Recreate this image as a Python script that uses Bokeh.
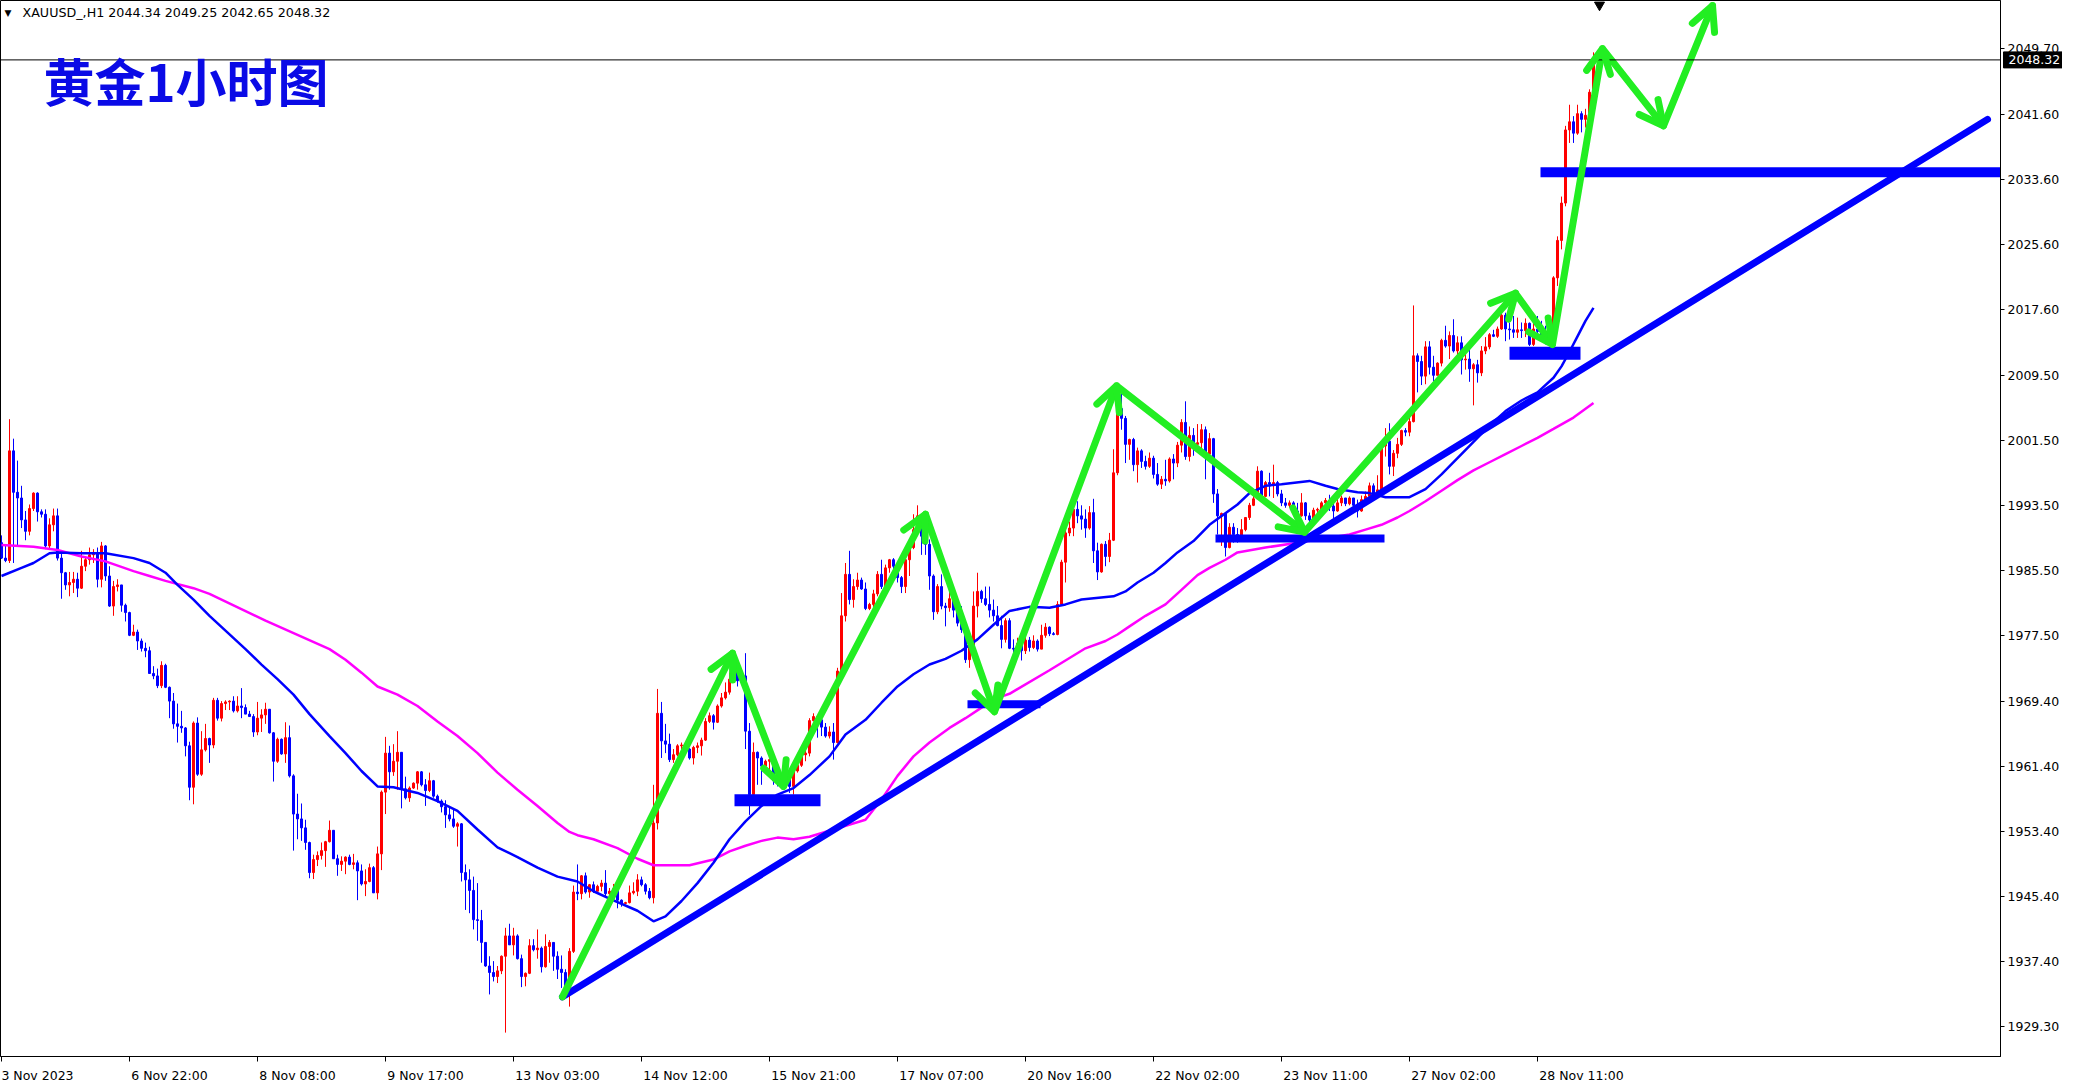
from bokeh.plotting import figure
from bokeh.models import (Range1d, FixedTicker, NumeralTickFormatter, Label, Span,
                          Arrow, OpenHead, ColumnDataSource)
from bokeh.embed import file_html
from bokeh.resources import INLINE
from bokeh.core.properties import value

# ---------------- data ----------------
symbol = "XAUUSD_,H1"
title_text = "黄金1小时图"
x_labels = ["3 Nov 2023", "6 Nov 22:00", "8 Nov 08:00", "9 Nov 17:00", "13 Nov 03:00",
            "14 Nov 12:00", "15 Nov 21:00", "17 Nov 07:00", "20 Nov 16:00", "22 Nov 02:00",
            "23 Nov 11:00", "27 Nov 02:00", "28 Nov 11:00"]
bars_per_label = 32
y_ticks = [1929.30, 1937.40, 1945.40, 1953.40, 1961.40, 1969.40, 1977.50, 1985.50,
           1993.50, 2001.50, 2009.50, 2017.60, 2025.60, 2033.60, 2041.60, 2049.70]

first_open = 1988.9
closes = [
    1987.0, 1986.7, 2000.2, 1995.1, 1994.4, 1991.7, 1990.3, 1993.1, 1995.0, 1992.7,
    1992.4, 1988.5, 1991.1, 1992.2, 1987.0, 1985.2, 1983.7, 1984.0, 1984.4, 1983.3,
    1986.0, 1986.8, 1987.4, 1987.7, 1984.4, 1988.5, 1984.8, 1981.1, 1983.5, 1983.7,
    1981.2, 1980.3, 1977.5, 1977.9, 1976.8, 1975.9, 1975.6, 1972.8, 1972.5, 1971.3,
    1973.8, 1971.1, 1969.4, 1966.6, 1966.3, 1966.1, 1963.9, 1958.8, 1966.7, 1960.4,
    1963.4, 1964.8, 1964.0, 1969.5, 1967.3, 1969.1, 1969.3, 1969.4, 1968.2, 1968.8,
    1968.6, 1967.8, 1967.5, 1965.6, 1967.3, 1967.7, 1968.4, 1965.5, 1962.0, 1964.7,
    1962.9, 1964.9, 1960.2, 1955.5, 1954.9, 1953.8, 1952.0, 1948.3, 1949.9, 1950.4,
    1951.0, 1952.1, 1953.5, 1950.0, 1949.3, 1949.7, 1950.2, 1949.3, 1949.5, 1948.5,
    1946.9, 1947.2, 1948.9, 1945.8, 1950.6, 1958.2, 1963.0, 1960.7, 1962.0, 1963.1,
    1958.6, 1957.5, 1958.7, 1959.3, 1960.7, 1959.1, 1958.4, 1959.6, 1957.7, 1957.1,
    1956.4, 1955.4, 1954.9, 1954.0, 1954.3, 1948.3, 1947.4, 1946.1, 1942.5, 1942.4,
    1939.7, 1936.8, 1936.0, 1935.5, 1936.2, 1938.0, 1940.5, 1939.4, 1940.5, 1937.7,
    1935.5, 1935.9, 1939.3, 1938.8, 1939.0, 1936.7, 1939.2, 1939.7, 1938.0, 1936.4,
    1936.0, 1933.9, 1938.6, 1945.9, 1945.7, 1947.9, 1945.9, 1946.8, 1946.0, 1946.6,
    1947.0, 1945.7, 1946.0, 1946.3, 1944.9, 1944.5, 1944.6, 1945.8, 1946.0, 1947.4,
    1946.8, 1946.0, 1945.2, 1954.4, 1967.9, 1964.5, 1964.1, 1962.2, 1962.8, 1963.9,
    1964.0, 1963.5, 1962.4, 1963.7, 1963.9, 1964.6, 1966.9, 1967.6, 1966.8, 1968.8,
    1969.8, 1970.5, 1972.1, 1973.3, 1971.9, 1972.5, 1965.7, 1957.9, 1963.1, 1962.4,
    1961.4, 1962.0, 1962.2, 1959.6, 1959.3, 1959.1, 1959.8, 1958.9, 1960.8, 1961.5,
    1962.8, 1963.0, 1967.0, 1967.5, 1967.1, 1966.2, 1965.1, 1965.6, 1964.3, 1973.1,
    1979.9, 1985.0, 1981.9, 1983.5, 1984.3, 1983.2, 1980.8, 1981.3, 1982.6, 1985.0,
    1983.5, 1985.8, 1986.8, 1986.0, 1984.6, 1983.5, 1986.8, 1988.3, 1990.5, 1992.2,
    1989.7, 1988.7, 1984.8, 1980.4, 1983.5, 1981.1, 1980.9, 1982.0, 1980.6, 1979.0,
    1978.2, 1974.5, 1976.2, 1981.1, 1982.9, 1982.0, 1981.3, 1980.6, 1979.9, 1978.7,
    1977.0, 1979.3, 1975.9, 1975.8, 1976.5, 1975.6, 1976.9, 1976.0, 1976.8, 1975.8,
    1977.5, 1978.5, 1977.7, 1977.6, 1981.3, 1986.5, 1990.1, 1990.7, 1993.0, 1992.2,
    1991.8, 1990.7, 1992.6, 1987.9, 1985.3, 1988.7, 1987.2, 1989.2, 1997.5, 2005.4,
    2004.2, 2001.0, 2001.6, 1998.5, 2000.2, 1998.9, 1998.3, 1999.3, 1997.3, 1996.1,
    1996.7, 1996.5, 1999.2, 1998.7, 2000.9, 2003.7, 1999.5, 2002.1, 2001.0, 2001.2,
    2002.8, 1999.8, 2001.7, 1994.9, 1992.2, 1992.5, 1988.3, 1990.8, 1989.9, 1989.6,
    1990.5, 1992.0, 1993.5, 1994.3, 1997.7, 1994.6, 1996.3, 1996.1, 1996.3, 1994.9,
    1993.8, 1993.5, 1993.8, 1992.8, 1992.2, 1993.8, 1992.2, 1991.7, 1992.9, 1993.0,
    1993.8, 1994.1, 1993.4, 1992.8, 1993.8, 1994.4, 1993.7, 1994.4, 1993.5, 1992.8,
    1994.2, 1994.6, 1995.9, 1994.9, 1995.4, 2000.8, 2001.4, 1998.3, 1999.9, 2001.0,
    2002.7, 2002.5, 2003.8, 2011.9, 2011.2, 2009.4, 2013.0, 2010.5, 2009.5, 2011.0,
    2013.8, 2013.1, 2014.4, 2012.5, 2013.5, 2011.4, 2011.5, 2010.3, 2010.8, 2009.8,
    2012.5, 2013.0, 2014.5, 2014.3, 2015.2, 2016.9, 2015.2, 2015.1, 2014.8, 2015.1,
    2015.0, 2015.9, 2013.3, 2015.2, 2014.9, 2014.3, 2013.9, 2014.3, 2021.5, 2026.1,
    2030.7, 2039.7, 2040.7, 2039.3, 2041.7, 2041.0, 2041.5, 2044.34, 2048.32]
highs = [
    1989.8, 1988.5, 2004.1, 2001.7, 1999.0, 1995.9, 1992.8, 1993.6, 1995.1, 1995.1,
    1993.0, 1993.0, 1991.9, 1993.1, 1993.1, 1987.7, 1985.3, 1985.3, 1985.3, 1985.2,
    1987.9, 1987.2, 1988.3, 1988.1, 1988.3, 1989.0, 1988.6, 1986.0, 1984.2, 1984.4,
    1983.7, 1981.4, 1980.4, 1978.8, 1978.2, 1977.1, 1976.6, 1976.1, 1973.7, 1973.4,
    1974.3, 1974.0, 1971.2, 1970.4, 1969.1, 1968.2, 1966.2, 1964.4, 1966.9, 1967.4,
    1965.7, 1966.6, 1964.9, 1969.8, 1969.8, 1969.4, 1969.5, 1969.5, 1970.0, 1970.0,
    1971.0, 1969.0, 1968.2, 1967.8, 1969.3, 1968.4, 1969.2, 1968.4, 1965.6, 1964.9,
    1964.8, 1966.8, 1966.4, 1960.4, 1958.0, 1956.8, 1954.8, 1952.1, 1950.5, 1950.9,
    1952.0, 1952.2, 1954.7, 1953.5, 1950.5, 1950.3, 1950.3, 1950.5, 1950.6, 1949.8,
    1949.3, 1948.7, 1949.4, 1949.1, 1951.5, 1958.4, 1965.0, 1963.9, 1964.1, 1965.7,
    1963.1, 1960.1, 1958.9, 1959.4, 1960.8, 1960.8, 1959.8, 1960.6, 1959.7, 1957.9,
    1957.3, 1957.2, 1956.5, 1956.1, 1954.5, 1954.4, 1949.3, 1948.7, 1947.8, 1947.0,
    1943.7, 1939.7, 1938.0, 1937.4, 1936.8, 1938.1, 1941.5, 1942.0, 1941.5, 1940.7,
    1938.2, 1936.0, 1940.1, 1940.1, 1941.3, 1939.2, 1940.7, 1940.0, 1939.7, 1938.6,
    1938.1, 1936.4, 1939.0, 1946.7, 1949.3, 1948.0, 1948.3, 1946.9, 1947.2, 1946.8,
    1947.4, 1948.6, 1946.4, 1946.9, 1946.4, 1945.0, 1944.7, 1946.7, 1947.1, 1948.1,
    1947.8, 1947.0, 1946.4, 1959.1, 1970.9, 1969.3, 1966.6, 1965.4, 1963.5, 1964.1,
    1964.3, 1964.3, 1963.6, 1963.9, 1964.3, 1964.9, 1967.3, 1968.0, 1967.8, 1969.0,
    1970.4, 1971.7, 1972.9, 1974.3, 1973.7, 1973.4, 1975.3, 1966.7, 1964.3, 1963.2,
    1962.6, 1962.2, 1962.3, 1962.3, 1960.0, 1959.8, 1960.2, 1960.0, 1961.6, 1962.0,
    1963.5, 1963.7, 1967.3, 1967.9, 1967.6, 1967.9, 1966.7, 1966.3, 1966.7, 1973.5,
    1982.7, 1986.4, 1987.9, 1984.4, 1985.2, 1984.6, 1984.0, 1981.5, 1983.1, 1985.4,
    1986.8, 1986.2, 1986.9, 1987.0, 1986.2, 1984.8, 1987.4, 1989.3, 1992.4, 1993.5,
    1992.4, 1989.7, 1989.3, 1985.0, 1983.8, 1985.0, 1981.5, 1983.1, 1982.1, 1980.7,
    1981.1, 1978.3, 1976.6, 1982.9, 1985.2, 1983.1, 1983.5, 1983.5, 1981.9, 1981.1,
    1979.9, 1979.6, 1979.6, 1977.0, 1977.2, 1976.8, 1977.6, 1977.3, 1977.5, 1977.0,
    1978.8, 1979.0, 1978.6, 1977.9, 1981.7, 1986.8, 1990.5, 1991.5, 1994.0, 1994.0,
    1993.5, 1993.0, 1993.4, 1994.3, 1988.9, 1988.8, 1989.1, 1990.1, 2000.4, 2006.7,
    2007.6, 2004.5, 2001.7, 2001.8, 2000.6, 2000.4, 1999.6, 2000.0, 1999.6, 1998.7,
    1997.1, 1999.1, 1999.4, 1999.8, 2001.3, 2004.1, 2006.3, 2003.2, 2003.0, 2003.5,
    2003.5, 2003.2, 2002.4, 2001.8, 1995.5, 1992.6, 1992.6, 1991.3, 1991.3, 1990.7,
    1991.8, 1992.0, 1993.8, 1994.8, 1998.3, 1997.8, 1996.5, 1997.5, 1998.5, 1996.5,
    1995.4, 1994.4, 1994.1, 1994.0, 1993.8, 1995.0, 1993.9, 1992.6, 1993.2, 1993.2,
    1994.0, 1994.4, 1994.8, 1993.8, 1994.7, 1994.7, 1994.4, 1994.6, 1994.4, 1994.2,
    1994.7, 1995.2, 1996.3, 1996.2, 1997.2, 2001.4, 2003.0, 2003.6, 2000.3, 2001.8,
    2002.8, 2003.0, 2004.5, 2018.1, 2012.2, 2011.9, 2013.7, 2013.7, 2011.9, 2011.1,
    2014.0, 2015.6, 2014.9, 2016.4, 2014.3, 2014.3, 2012.1, 2013.7, 2011.0, 2011.4,
    2013.1, 2014.2, 2014.7, 2015.1, 2015.5, 2017.6, 2017.2, 2016.0, 2016.8, 2016.6,
    2016.0, 2016.5, 2016.0, 2016.0, 2016.8, 2016.2, 2015.6, 2016.0, 2021.7, 2026.6,
    2031.5, 2040.2, 2042.8, 2041.4, 2042.8, 2042.0, 2042.3, 2044.7, 2049.25]
lows = [
    1986.9, 1986.5, 1986.4, 1986.4, 1988.5, 1990.7, 1989.2, 1989.8, 1992.8, 1991.5,
    1992.0, 1988.1, 1988.1, 1990.3, 1986.7, 1982.0, 1983.1, 1982.3, 1982.7, 1982.2,
    1983.2, 1985.4, 1986.2, 1986.4, 1983.4, 1983.4, 1984.2, 1981.0, 1979.9, 1982.9,
    1980.4, 1979.2, 1977.4, 1977.4, 1975.7, 1975.5, 1974.8, 1972.8, 1972.1, 1971.0,
    1971.0, 1971.0, 1967.3, 1966.0, 1964.3, 1965.5, 1962.6, 1957.2, 1956.7, 1960.2,
    1960.2, 1963.2, 1961.8, 1963.6, 1967.0, 1966.9, 1968.3, 1968.3, 1968.0, 1968.0,
    1967.3, 1967.8, 1967.5, 1965.0, 1965.2, 1965.6, 1966.6, 1965.4, 1959.5, 1961.8,
    1962.8, 1961.8, 1960.0, 1951.0, 1952.4, 1952.2, 1951.1, 1947.6, 1947.5, 1949.1,
    1949.9, 1949.0, 1952.0, 1950.0, 1947.9, 1948.5, 1948.1, 1949.2, 1948.7, 1944.9,
    1946.7, 1945.4, 1947.1, 1945.8, 1945.0, 1948.6, 1955.5, 1958.5, 1960.2, 1958.5,
    1956.2, 1957.3, 1957.0, 1958.6, 1958.5, 1958.9, 1956.5, 1958.2, 1957.5, 1956.9,
    1955.7, 1953.8, 1954.6, 1953.8, 1951.5, 1947.2, 1943.7, 1943.3, 1941.3, 1939.9,
    1937.2, 1936.7, 1933.3, 1934.9, 1934.7, 1935.8, 1928.6, 1939.4, 1938.1, 1937.6,
    1934.2, 1934.3, 1935.8, 1938.6, 1937.7, 1936.0, 1936.6, 1937.2, 1936.2, 1935.2,
    1934.1, 1933.5, 1931.8, 1938.4, 1944.9, 1945.0, 1945.7, 1945.2, 1945.8, 1946.0,
    1946.0, 1945.4, 1945.5, 1945.6, 1943.9, 1944.1, 1944.4, 1944.5, 1945.6, 1945.4,
    1946.6, 1945.6, 1945.0, 1944.5, 1953.6, 1962.4, 1963.0, 1961.9, 1961.8, 1962.6,
    1963.4, 1963.0, 1962.2, 1961.6, 1963.0, 1962.7, 1964.5, 1966.7, 1965.9, 1966.7,
    1968.6, 1969.6, 1970.2, 1971.7, 1971.2, 1971.7, 1963.5, 1955.4, 1957.9, 1959.1,
    1959.1, 1961.0, 1960.8, 1959.1, 1958.9, 1958.9, 1958.7, 1958.1, 1957.9, 1960.6,
    1961.3, 1962.0, 1962.6, 1966.9, 1964.9, 1965.1, 1964.9, 1964.8, 1962.2, 1964.2,
    1972.5, 1979.2, 1981.3, 1980.9, 1983.1, 1983.1, 1980.6, 1980.6, 1981.0, 1982.3,
    1983.2, 1983.3, 1985.2, 1984.2, 1984.0, 1982.7, 1982.7, 1984.8, 1988.1, 1990.1,
    1987.4, 1987.4, 1983.1, 1979.4, 1980.1, 1980.7, 1978.6, 1980.4, 1979.7, 1978.6,
    1977.8, 1974.1, 1973.5, 1975.9, 1979.7, 1981.5, 1981.1, 1979.7, 1979.2, 1978.6,
    1975.9, 1976.6, 1975.8, 1975.0, 1975.3, 1974.4, 1975.2, 1975.5, 1975.8, 1975.5,
    1975.8, 1977.2, 1977.4, 1977.5, 1977.5, 1981.1, 1984.0, 1989.7, 1989.7, 1991.3,
    1990.5, 1989.5, 1990.5, 1986.4, 1984.3, 1985.2, 1986.0, 1986.5, 1989.1, 1997.2,
    2002.8, 1998.7, 1999.1, 1997.7, 1996.3, 1998.1, 1997.9, 1998.1, 1996.8, 1995.9,
    1995.5, 1995.9, 1996.3, 1996.7, 1998.2, 2000.0, 1999.1, 1998.9, 1999.6, 2000.6,
    2000.3, 1996.7, 1999.3, 1993.8, 1989.9, 1988.5, 1987.2, 1988.2, 1988.9, 1988.9,
    1989.3, 1990.3, 1991.7, 1993.4, 1994.3, 1994.5, 1994.5, 1994.6, 1994.4, 1994.6,
    1993.4, 1993.2, 1993.2, 1992.2, 1991.7, 1992.1, 1991.7, 1991.3, 1991.7, 1992.0,
    1992.5, 1993.5, 1992.8, 1991.7, 1992.7, 1993.4, 1993.4, 1993.5, 1993.0, 1992.0,
    1992.7, 1993.8, 1994.2, 1994.6, 1994.7, 1995.2, 1999.5, 1997.3, 1997.1, 1999.3,
    2000.8, 2002.0, 2002.0, 2003.7, 2007.4, 2008.3, 2008.4, 2009.6, 2008.8, 2009.5,
    2010.6, 2012.9, 2011.5, 2012.3, 2011.5, 2009.6, 2010.2, 2008.7, 2005.8, 2008.6,
    2009.4, 2012.1, 2012.7, 2014.2, 2014.1, 2015.1, 2013.7, 2013.9, 2014.1, 2014.1,
    2014.1, 2014.2, 2013.1, 2013.1, 2014.1, 2013.9, 2013.3, 2013.6, 2014.1, 2020.5,
    2025.0, 2030.3, 2038.1, 2038.1, 2039.1, 2039.4, 2040.0, 2041.0, 2042.65]

# moving averages (blue = fast, magenta = slow), read at bar positions
blue_ma_x = [0, 5, 8, 12, 14, 20, 26, 33, 37, 41, 44, 48, 52, 61, 65, 69, 73, 77, 82, 86,
             90, 94, 98, 104, 109, 114, 119, 124, 129, 134, 139, 144, 148, 152, 159, 163, 166, 170, 174, 178,
             182, 186, 190, 194, 198, 202, 207, 211, 216, 220, 224, 228, 232, 236, 240, 244, 248, 252, 257, 262,
             266, 270, 278, 281, 284, 288, 291, 294, 298, 302, 309, 312, 316, 320, 327, 331, 334, 339, 342, 346,
             352, 356, 360, 364, 368, 372, 376, 380, 384, 388, 390, 392, 394, 396, 398]
blue_ma_y = [1984.8, 1985.8, 1986.4, 1987.6, 1987.7, 1987.6, 1987.6, 1987.0, 1986.4, 1985.2,
             1983.7, 1981.9, 1979.9, 1975.8, 1973.9, 1972.1, 1970.2, 1967.8, 1965.1, 1963.0,
             1960.8, 1958.9, 1958.8, 1958.1, 1957.1, 1955.9, 1953.6, 1951.4, 1950.2, 1948.9,
             1947.8, 1947.2, 1946.0, 1945.1, 1943.6, 1942.3, 1942.9, 1944.8, 1947.0, 1949.5,
             1952.4, 1954.6, 1956.5, 1957.9, 1958.7, 1960.3, 1962.6, 1965.3, 1967.1, 1969.2,
             1971.2, 1972.7, 1973.9, 1974.6, 1975.6, 1977.0, 1978.8, 1980.5, 1981.0, 1980.9,
             1981.3, 1981.9, 1982.3, 1982.9, 1984.0, 1985.2, 1986.4, 1987.7, 1989.1, 1991.1,
             1993.6, 1995.0, 1995.9, 1996.1, 1996.5, 1995.9, 1995.5, 1995.1, 1995.0, 1994.5,
             1994.5, 1995.5, 1997.3, 1999.3, 2001.3, 2003.3, 2005.1, 2006.4, 2007.4, 2009.2,
             2010.6, 2012.4, 2014.3, 2016.2, 2017.8]
magenta_ma_x = [0, 8, 14, 20, 26, 33, 37, 41, 48, 52, 66, 82, 86, 90, 94, 99, 104, 109, 114, 119,
                124, 129, 134, 139, 142, 144, 148, 154, 159, 163, 172, 178, 182, 186, 190, 194, 198, 202, 216, 220,
                224, 228, 232, 237, 241, 245, 249, 252, 262, 271, 276, 279, 282, 286, 291, 295, 299, 302, 306, 309,
                316, 324, 332, 337, 341, 345, 349, 352, 356, 360, 364, 368, 372, 376, 380, 384, 388, 393, 398]
magenta_ma_y = [1988.6, 1988.4, 1988.0, 1987.2, 1986.6, 1985.4, 1984.8, 1984.2, 1983.3, 1982.6,
                1979.3, 1975.8, 1974.5, 1972.9, 1971.2, 1970.2, 1968.8, 1966.9, 1965.1, 1963.0,
                1960.6, 1958.5, 1956.5, 1954.4, 1953.3, 1952.9, 1952.4, 1951.3, 1950.0, 1949.2,
                1949.2, 1949.9, 1950.9, 1951.6, 1952.2, 1952.6, 1952.4, 1952.7, 1954.8, 1957.3,
                1960.2, 1962.6, 1964.3, 1966.1, 1967.3, 1968.6, 1969.8, 1970.3, 1973.2, 1975.9,
                1976.8, 1977.6, 1978.6, 1979.9, 1981.3, 1983.1, 1984.9, 1985.8, 1986.8, 1987.7,
                1988.3, 1988.9, 1989.5, 1989.9, 1990.5, 1991.1, 1992.0, 1992.8, 1994.0, 1995.3,
                1996.6, 1997.8, 1998.8, 1999.8, 2000.8, 2001.8, 2002.9, 2004.3, 2006.1]

# hand-drawn annotations (bar index, price)
zig_x = [140.25, 182.75, 195.5, 231.0, 248.25, 278.75, 325.75, 378.5, 387.75, 400.25, 415.5, 427.75]
zig_y = [1933.0, 1975.3, 1958.9, 1992.4, 1968.1, 2008.2, 1990.2, 2019.6, 2013.3, 2049.7, 2040.2, 2055.0]
trend_x = [140.25, 496.5]
trend_y = [1933.0, 2041.0]
support_x0 = [183.25, 241.5, 303.5, 377.0, 384.75]
support_x1 = [204.75, 259.75, 345.75, 394.75, 501.5]
support_y = [1957.2, 1969.0, 1989.4, 2012.2, 2034.5]
support_w = [12, 8, 8, 13, 10]

# ---------------- styling ----------------
UP, DOWN = "#FF0000", "#0000FF"
MA_FAST, MA_SLOW = "#0000FF", "#FF00FF"
DRAW_BLUE, GREEN = "#0000FF", "#22EE22"
FW, FH = 2000, 1056
X0, X1 = -0.25, 499.75
Y0, Y1 = 1925.66, 2055.63
px_per_bar = FW / (X1 - X0)

n = min(len(closes), len(highs), len(lows))
closes, highs, lows = closes[:n], highs[:n], lows[:n]
opens = [first_open] + closes[:-1]
bar_x = list(range(n))
colors = [UP if c > o else DOWN for o, c in zip(opens, closes)]
tops = [max(o, c) for o, c in zip(opens, closes)]
bots = [min(o, c) for o, c in zip(opens, closes)]

p = figure(frame_width=FW, frame_height=FH,
           x_range=Range1d(X0, X1), y_range=Range1d(Y0, Y1),
           output_backend="svg", toolbar_location=None,
           x_axis_location="below", y_axis_location="right",
           min_border_left=0, min_border_top=0, min_border_bottom=0, min_border_right=0)
p.grid.visible = False
p.outline_line_color = "black"
p.outline_line_alpha = 1.0
p.outline_line_width = 1
p.background_fill_color = "white"
p.border_fill_color = "white"

ya = p.yaxis[0]
ya.ticker = FixedTicker(ticks=y_ticks)
ya.formatter = NumeralTickFormatter(format="0.00")
ya.major_tick_in = 0
ya.major_tick_out = 4
ya.minor_tick_line_color = None
ya.major_label_standoff = 3
ya.major_label_text_font = "DejaVu Sans"
ya.major_label_text_font_size = "12.5px"
ya.major_label_text_color = "black"
ya.axis_line_color = "black"
ya.major_tick_line_color = "black"

xa = p.xaxis[0]
tick_pos = [k * bars_per_label for k in range(len(x_labels))]
lab_pos = [t + round(len(s) * 0.89) for t, s in zip(tick_pos, x_labels)]
xa.ticker = FixedTicker(ticks=lab_pos, minor_ticks=tick_pos)
xa.major_label_overrides = {pos: s for pos, s in zip(lab_pos, x_labels)}
xa.major_tick_line_color = None
xa.major_tick_in = 0
xa.major_tick_out = 0
xa.minor_tick_in = 0
xa.minor_tick_out = 5
xa.minor_tick_line_color = "black"
xa.major_label_standoff = 6
xa.major_label_text_font = "DejaVu Sans"
xa.major_label_text_font_size = "12.5px"
xa.major_label_text_color = "black"
xa.axis_line_color = "black"

# candles
src = ColumnDataSource(dict(x=bar_x, h=highs, l=lows, top=tops, bottom=bots, color=colors))
p.segment(x0="x", y0="h", x1="x", y1="l", line_color="color", line_width=1, source=src)
p.vbar(x="x", width=0.5, top="top", bottom="bottom", fill_color="color",
       line_color="color", line_width=1, source=src)

# moving averages
p.line(magenta_ma_x, magenta_ma_y, line_color=MA_SLOW, line_width=2.5)
p.line(blue_ma_x, blue_ma_y, line_color=MA_FAST, line_width=2.5)

# current price line
p.add_layout(Span(location=closes[-1], dimension="width", line_color="black", line_width=1))

# trendline and support bars
p.line(trend_x, trend_y, line_color=DRAW_BLUE, line_width=7, line_cap="round")
for x0, x1, y, w in zip(support_x0, support_x1, support_y, support_w):
    p.segment(x0=[x0], y0=[y], x1=[x1], y1=[y], line_color=DRAW_BLUE, line_width=w, line_cap="butt")

# green zigzag with arrow heads
p.line(zig_x, zig_y, line_color=GREEN, line_width=7, line_join="round", line_cap="round")
for i in range(1, len(zig_x)):
    p.add_layout(Arrow(end=OpenHead(size=24, line_color=GREEN, line_width=7,
                                    line_cap="round", line_join="round"),
                       x_start=zig_x[i - 1], y_start=zig_y[i - 1],
                       x_end=zig_x[i], y_end=zig_y[i], line_alpha=0.0))

# chart-shift marker at top
p.scatter(x=[n + 0.5], y=[Y1 - 0.55], marker="inverted_triangle", size=10,
          fill_color="black", line_color="black")

# header and title
p.add_layout(Label(x=4, y=FH - 12, x_units="screen", y_units="screen", text="▼",
                   text_font="DejaVu Sans", text_font_size="9px", text_color="black",
                   text_baseline="middle"))
header = f"{symbol}  {opens[-1]:.2f} {highs[-1]:.2f} {lows[-1]:.2f} {closes[-1]:.2f}"
p.add_layout(Label(x=22, y=FH - 12, x_units="screen", y_units="screen", text=header,
                   text_font="DejaVu Sans", text_font_size="12.7px", text_color="black",
                   text_baseline="middle"))
p.add_layout(Label(x=43, y=FH - 42, x_units="screen", y_units="screen", text=title_text,
                   text_font="Noto Sans CJK SC", text_font_style="bold", text_font_size="51px",
                   text_color="#0A0AE6", text_baseline="top"))

# price tag on the axis (overlay level so it is drawn over the axis area)
tag_text = f"{closes[-1]:.2f}"
p.rect(x=[X1 + 34 / px_per_bar], y=[closes[-1]], width=62, height=16,
       width_units="screen", height_units="screen",
       fill_color="black", line_color="black", level="overlay")
p.text(x=[X1 + 8 / px_per_bar], y=[closes[-1]], text=[tag_text], text_color="white",
       text_font=value("DejaVu Sans"), text_font_size=value("12.5px"),
       text_baseline="middle", text_align="left", level="overlay")

open("out.html", "w").write(file_html(p, INLINE))
